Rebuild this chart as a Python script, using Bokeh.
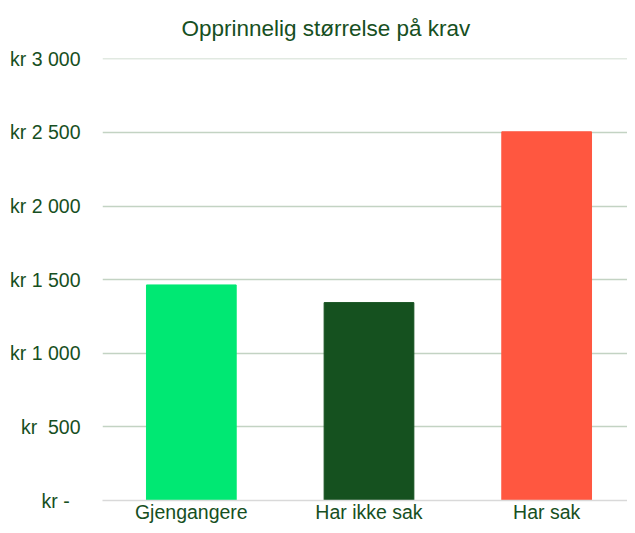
from bokeh.plotting import figure
from bokeh.models import ColumnDataSource, FixedTicker, Range1d
from bokeh.embed import file_html
from bokeh.resources import INLINE

categories = ["Gjengangere", "Har ikke sak", "Har sak"]
values = [1464, 1344, 2504]
colors = ["#00E873", "#15511F", "#FF5740"]
tick_values = [0, 500, 1000, 1500, 2000, 2500, 3000]
tick_labels = ["kr -\u00a0\u00a0", "kr\u00a0\u00a0500", "kr 1 000", "kr 1 500",
               "kr 2 000", "kr 2 500", "kr 3 000"]
title_text = "Opprinnelig størrelse på krav"

TEXT = "#174F22"
FONT = "Liberation Sans"

xpos = [i + 0.5 for i in range(len(categories))]
src = ColumnDataSource(dict(x=xpos, cat=categories, val=values, color=colors))

p = figure(x_range=Range1d(0, 2.955), y_range=(0, 3002), width=627, height=525,
           output_backend="svg", toolbar_location=None,
           min_border_left=102, min_border_right=0, min_border_top=57,
           min_border_bottom=25)
p.outline_line_color = None
p.background_fill_color = "white"
p.border_fill_color = "white"

p.vbar(x="x", top="val", width=0.505, color="color", source=src)

p.title.text = title_text
p.title.text_font = FONT
p.title.text_font_size = "22.5px"
p.title.text_font_style = "normal"
p.title.text_color = TEXT
p.title.align = "left"
p.title.offset = 79
p.title.standoff = 31
p.title.vertical_align = "top"

p.xgrid.grid_line_color = None
p.ygrid.grid_line_color = "#C3D3C3"
p.ygrid.grid_line_width = 1.3

p.yaxis.ticker = FixedTicker(ticks=tick_values)
p.yaxis.major_label_overrides = {v: l for v, l in zip(tick_values, tick_labels)}
p.yaxis.axis_line_color = None
p.yaxis.major_tick_line_color = None
p.yaxis.minor_tick_line_color = None
p.yaxis.major_label_standoff = 22

p.xaxis.ticker = FixedTicker(ticks=xpos)
p.xaxis.major_label_overrides = {x: c for x, c in zip(xpos, categories)}
p.xaxis.axis_line_color = "#D9D9D9"
p.xaxis.axis_line_width = 1.3
p.xaxis.major_tick_line_color = None
p.xaxis.minor_tick_line_color = None
p.xaxis.major_label_standoff = 0

for ax in (p.xaxis, p.yaxis):
    ax.axis_label = None
    ax.axis_label_standoff = 0
    ax.major_tick_out = 0
    ax.major_tick_in = 0
    ax.major_label_text_font = FONT
    ax.major_label_text_font_size = "19.5px"
    ax.major_label_text_color = TEXT

open("out.html", "w").write(file_html(p, INLINE))
